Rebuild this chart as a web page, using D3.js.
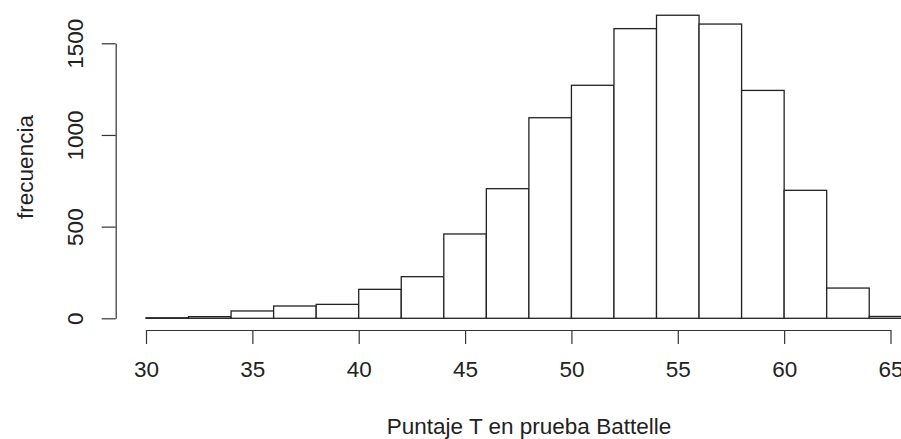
<!DOCTYPE html>
<html>
<head>
<meta charset="utf-8">
<script src="https://cdn.jsdelivr.net/npm/d3@7"></script>
<style>
  html, body { margin: 0; padding: 0; background: #fff; }
  svg { display: block; }
  text { font-family: "Liberation Sans", Arial, Helvetica, sans-serif; fill: #222; }
</style>
</head>
<body>
<script>
// Histogram of T scores: bin edges every 2 points from 30 to 66
const binStarts = [30, 32, 34, 36, 38, 40, 42, 44, 46, 48, 50, 52, 54, 56, 58, 60, 62, 64];
const binWidth = 2;
const counts = [3, 9, 40, 67, 76, 158, 227, 460, 707, 1094, 1271, 1580, 1653, 1605, 1243, 698, 165, 10];
const xTicks = [30, 35, 40, 45, 50, 55, 60, 65];
const yTicks = [0, 500, 1000, 1500];
const xTitle = "Puntaje T en prueba Battelle";
const yTitle = "frecuencia";

const W = 901, H = 439;
const svg = d3.select("body").append("svg").attr("width", W).attr("height", H);

const x = d3.scaleLinear().domain([30, 65]).range([146, 890.5]);
const y = d3.scaleLinear().domain([0, 1500]).range([318.3, 43.3]);

const FS = 22.5;
const ink = "#222";
const plain = d3.format("d");

// bars
svg.append("g").selectAll("rect")
  .data(binStarts.map((b, i) => ({ b, v: counts[i] })))
  .join("rect")
  .attr("x", d => x(d.b))
  .attr("y", d => y(d.v))
  .attr("width", d => x(d.b + binWidth) - x(d.b))
  .attr("height", d => y(0) - y(d.v))
  .attr("fill", "#fff")
  .attr("stroke", ink)
  .attr("stroke-width", 1.3);

// bottom axis
const xAxis = d3.axisBottom(x).tickValues(xTicks).tickFormat(plain)
  .tickSize(14).tickPadding(17).tickSizeOuter(0);
const gx = svg.append("g").attr("transform", "translate(0,330)").call(xAxis);
gx.select(".domain").attr("stroke", "#333").attr("stroke-width", 1.2);
gx.selectAll(".tick line").attr("stroke", "#333").attr("stroke-width", 1.2);
gx.selectAll(".tick text").attr("font-size", FS).attr("fill", ink)
  .style("font-family", "'Liberation Sans', Arial, sans-serif");

// left axis with rotated labels
const yAxis = d3.axisLeft(y).tickValues(yTicks).tickFormat(plain)
  .tickSize(14).tickPadding(0).tickSizeOuter(0);
const gy = svg.append("g").attr("transform", "translate(115.7,0)").call(yAxis);
gy.select(".domain").attr("stroke", "#333").attr("stroke-width", 1.2);
gy.selectAll(".tick line").attr("stroke", "#333").attr("stroke-width", 1.2);
gy.selectAll(".tick text")
  .attr("font-size", FS).attr("fill", ink)
  .style("font-family", "'Liberation Sans', Arial, sans-serif")
  .attr("x", null).attr("dy", null)
  .attr("text-anchor", "middle")
  .attr("transform", "translate(-32.7,0) rotate(-90)");

// axis titles
svg.append("text")
  .attr("x", 529).attr("y", 434)
  .attr("text-anchor", "middle")
  .attr("font-size", FS)
  .text(xTitle);

svg.append("text")
  .attr("transform", "translate(33,167) rotate(-90)")
  .attr("text-anchor", "middle")
  .attr("font-size", FS)
  .text(yTitle);
</script>
</body>
</html>
